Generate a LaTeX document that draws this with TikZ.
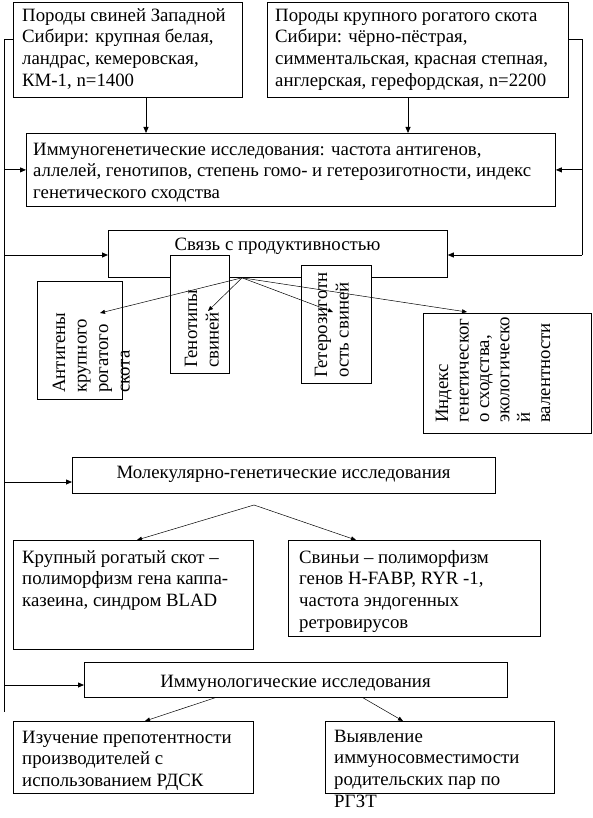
\documentclass[tikz,border=0pt]{standalone}
\usepackage{fontspec}
\setmainfont{Liberation Serif}
\usetikzlibrary{arrows.meta}
\newcommand\mystrut{\rule{0pt}{18pt}}
\begin{document}
\begin{tikzpicture}[x=1pt,y=-1pt,
  frame/.style={draw, line width=0.8pt, fill=white, inner sep=0pt, anchor=north west},
  txt/.style={inner sep=0pt, anchor=north west, align=left, font=\fontsize{18.8}{21.7}\selectfont},
  ctxt/.style={inner sep=0pt, anchor=base, font=\fontsize{18.8}{21.7}\selectfont},
  rtxt/.style={txt, rotate=90, font=\fontsize{18.8}{21.5}\selectfont},
  conn/.style={line width=0.8pt},
  arr/.style={line width=0.8pt, -{Triangle[length=6pt,width=5pt]}},
  darr/.style={line width=0.5pt, -{Triangle[length=5pt,width=4pt]}},
]
\useasboundingbox (0,0) rectangle (593,818);

% ---- frames
\node[frame, minimum width=229pt, minimum height=95pt] (b1) at (13,2) {};
\node[frame, minimum width=301pt, minimum height=95pt] (b2) at (267,2) {};
\node[frame, minimum width=529pt, minimum height=73pt] (imm) at (26,133) {};
\node[frame, minimum width=339pt, minimum height=47pt] (svz) at (108,230) {};
\node[frame, minimum width=85pt, minimum height=118pt] (ant) at (37,281) {};
\node[frame, minimum width=59pt, minimum height=118pt] (gen) at (170,255) {};
\node[frame, minimum width=70pt, minimum height=118pt] (het) at (301,265) {};
\node[frame, minimum width=168pt, minimum height=120pt] (ind) at (423,313) {};
\node[frame, minimum width=423pt, minimum height=36pt] (mol) at (72,457) {};
\node[frame, minimum width=240pt, minimum height=109pt] (krs) at (13,540) {};
\node[frame, minimum width=252pt, minimum height=96pt] (svi) at (288,540) {};
\node[frame, minimum width=423pt, minimum height=35pt] (iml) at (84,662) {};
\node[frame, minimum width=240pt, minimum height=72pt] (izu) at (13,721) {};
\node[frame, minimum width=229pt, minimum height=72pt] (vyy) at (325,721) {};

% ---- texts
\node[txt] (tb1) at (22,3) {\mystrut Породы свиней Западной\\Сибири: крупная белая,\\ландрас, кемеровская,\\КМ-1, n=1400};
\node[txt] (tb2) at (275,3) {\mystrut Породы крупного рогатого скота\\Сибири: чёрно-пёстрая,\\симментальская, красная степная,\\англерская, герефордская, n=2200};
\node[txt] (timm) at (33,137) {\mystrut Иммуногенетические исследования: частота антигенов,\\аллелей, генотипов, степень гомо- и гетерозиготности, индекс\\генетического сходства};
\node[ctxt] (tsvz) at (277.5,250) {Связь с продуктивностью};
\node[rtxt] (tant) at (47,393) {\mystrut Антигены\\крупного\\рогатого\\скота};
\node[rtxt] (tgen) at (179,368) {\mystrut Генотипы\\свиней};
\node[rtxt] (thet) at (309,378) {\mystrut Гетерозиготн\\ость свиней};
\node[rtxt, font=\fontsize{18.8}{20.4}\selectfont] (tind) at (430,423) {\mystrut Индекс\\генетическог\\о сходства,\\экологическо\\й\\валентности};
\node[ctxt] (tmol) at (283.5,478) {Молекулярно-генетические исследования};
\node[txt] (tkrs) at (22,545) {\mystrut Крупный рогатый скот –\\полиморфизм гена каппа-\\казеина, синдром BLAD};
\node[txt] (tsvi) at (299,545) {\mystrut Свиньи – полиморфизм\\генов H-FABP, RYR -1,\\частота эндогенных\\ретровирусов};
\node[ctxt] (timl) at (295.5,687) {Иммунологические исследования};
\node[txt] (tizu) at (22,725) {\mystrut Изучение препотентности\\производителей с\\использованием РДСК};
\node[txt] (tvyy) at (334,724) {\mystrut Выявление\\иммуносовместимости\\родительских пар по\\РГЗТ};

% ---- helper coordinates
\coordinate (LT) at (4,39);
\coordinate (LB) at (4,712);
\coordinate (RT) at (582,39);
\coordinate (RB) at (582,255);
\coordinate (y255) at (0,255);
\coordinate (y482) at (0,482);
\coordinate (y685) at (0,685);
\coordinate (x146) at (146,0);
\coordinate (x408) at (408,0);
\coordinate (ox) at (242,0);
\coordinate (ea) at (100,313);
\coordinate (eg) at (208,311);
\coordinate (eh) at (333,312);
\coordinate (ei) at (467,312);
\coordinate (mapex) at (254,505);
\coordinate (x137) at (137,0);
\coordinate (x356) at (356,0);
\coordinate (x215) at (215,0);
\coordinate (x145) at (145,0);
\coordinate (x363) at (363,0);
\coordinate (x403) at (403,0);

% ---- connectors
\draw[conn] (b1.west |- LT) -- (LT) -- (LB);
\draw[conn] (b2.east |- RT) -- (RT) -- (RB);
\draw[arr] (x146 |- b1.south) -- (x146 |- imm.north);
\draw[arr] (x408 |- b2.south) -- (x408 |- imm.north);
\draw[arr] (LT |- imm.west) -- (imm.west);
\draw[arr] (RT |- imm.east) -- (imm.east);
\draw[arr] (LT |- y255) -- (svz.west |- y255);
\draw[arr] (RB) -- (svz.east |- RB);
\draw[darr] (ox |- svz.south) -- (ea);
\draw[darr] (ox |- svz.south) -- (eg);
\draw[darr] (ox |- svz.south) -- (eh);
\draw[darr] (ox |- svz.south) -- (ei);
\draw[arr] (LT |- y482) -- (mol.west |- y482);
\draw[darr] (mapex) -- (x137 |- krs.north);
\draw[darr] (mapex) -- (x356 |- svi.north);
\draw[arr] (LT |- y685) -- (iml.west |- y685);
\draw[darr] (x215 |- iml.south) -- (x145 |- izu.north);
\draw[darr] (x363 |- iml.south) -- (x403 |- vyy.north);
\end{tikzpicture}
\end{document}
